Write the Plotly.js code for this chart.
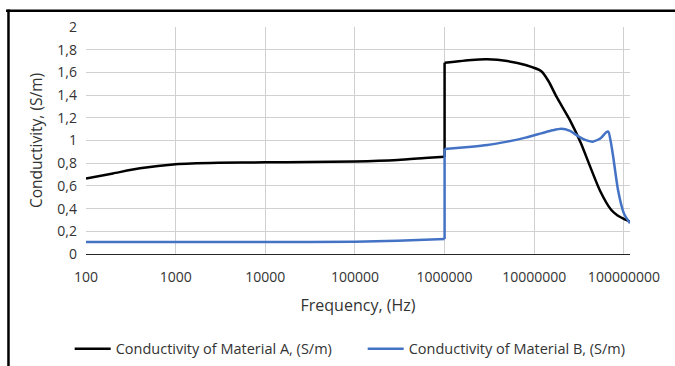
<!DOCTYPE html>
<html>
<head>
<meta charset="utf-8">
<script src="https://cdn.plot.ly/plotly-3.0.1.min.js"></script>
<style>
  html, body { margin: 0; padding: 0; background: #fff; }
  #chart { width: 675px; height: 366px; }
</style>
</head>
<body>
<div id="chart"></div>
<script>
// Material A: below the 1 MHz step, and from the step upward
const freqA_low = [100, 200, 400, 1000, 3000, 10000, 30000, 100000, 300000, 600000, 1000000];
const condA_low = [0.665, 0.71, 0.755, 0.79, 0.803, 0.808, 0.81, 0.815, 0.828, 0.845, 0.857];
const freqA_high = [1000000, 2000000, 3000000, 5000000, 8000000, 12000000, 14500000, 17700000,
  25000000, 33000000, 43000000, 54000000, 72000000, 85000000, 100000000, 117000000];
const condA_high = [1.685, 1.71, 1.715, 1.70, 1.665, 1.61, 1.52, 1.386,
  1.18, 0.98, 0.75, 0.56, 0.39, 0.34, 0.31, 0.285];

// Material B: below the 1 MHz step, and from the step upward
const freqB_low = [100, 1000, 10000, 100000, 300000, 1000000];
const condB_low = [0.105, 0.105, 0.105, 0.108, 0.117, 0.132];
const freqB_high = [1000000, 2000000, 3000000, 5000000, 8000000, 12000000, 16000000, 20000000,
  25000000, 30000000, 37000000, 45000000, 55000000, 63000000, 67000000, 71000000, 76000000,
  86000000, 100000000, 117000000];
const condB_high = [0.925, 0.945, 0.96, 0.99, 1.025, 1.063, 1.09, 1.104,
  1.085, 1.045, 1.005, 0.99, 1.02, 1.07, 1.078, 1.0, 0.857,
  0.564, 0.358, 0.27];

const seriesNames = ["Conductivity of Material A, (S/m)", "Conductivity of Material B, (S/m)"];
const seriesColors = ["#000000", "#4472C4"];

const xTickVals = [100, 1000, 10000, 100000, 1000000, 10000000, 100000000];
const xTickText = ["100", "1000", "10000", "100000", "1000000", "10000000", "100000000"];
const yTickVals = [0, 0.2, 0.4, 0.6, 0.8, 1, 1.2, 1.4, 1.6, 1.8, 2];
const yTickText = ["0", "0,2", "0,4", "0,6", "0,8", "1", "1,2", "1,4", "1,6", "1,8", "2"];

const FONT = "Open Sans, Lato, sans-serif";
const TXT = "#333333";

function seriesTraces(i, fLow, cLow, fHigh, cHigh) {
  const base = { type: "scatter", mode: "lines", legendgroup: "g" + i, name: seriesNames[i] };
  const lw = 2.5;
  return [
    Object.assign({}, base, { x: fLow, y: cLow, showlegend: true,
      line: { color: seriesColors[i], width: lw, shape: "spline", smoothing: 0.6 } }),
    Object.assign({}, base, { x: [fLow[fLow.length - 1], fHigh[0]], y: [cLow[cLow.length - 1], cHigh[0]],
      showlegend: false, line: { color: seriesColors[i], width: lw } }),
    Object.assign({}, base, { x: fHigh, y: cHigh, showlegend: false,
      line: { color: seriesColors[i], width: lw, shape: "spline", smoothing: 0.6 } })
  ];
}

const traces = [].concat(
  seriesTraces(0, freqA_low, condA_low, freqA_high, condA_high),
  seriesTraces(1, freqB_low, condB_low, freqB_high, condB_high)
);

const layout = {
  width: 675, height: 366,
  paper_bgcolor: "#ffffff", plot_bgcolor: "#ffffff",
  margin: { l: 86, r: 45, t: 27, b: 112, pad: 0, autoexpand: false },
  font: { family: FONT, size: 14, color: TXT },
  showlegend: true,
  xaxis: {
    type: "log",
    range: [2, Math.log10(117000000)],
    tickvals: xTickVals, ticktext: xTickText,
    showgrid: true, gridcolor: "#d0d0d0", gridwidth: 1,
    showline: true, linecolor: "#262626", linewidth: 1.3,
    zeroline: false, ticks: "", ticklabelstandoff: 10,
    tickfont: { family: FONT, size: 14, color: TXT },
    title: { text: "Frequency, (Hz)", standoff: 14, font: { family: FONT, size: 16, color: TXT } },
    automargin: false, fixedrange: true
  },
  yaxis: {
    range: [0, 2],
    tickvals: yTickVals, ticktext: yTickText,
    showgrid: true, gridcolor: "#d0d0d0", gridwidth: 1,
    showline: false, zeroline: false, ticks: "", ticklabelstandoff: 8,
    tickfont: { family: FONT, size: 14, color: TXT },
    title: { text: "Conductivity, (S/m)", standoff: 10, font: { family: FONT, size: 15.5, color: TXT } },
    automargin: false, fixedrange: true
  },
  legend: {
    orientation: "h", x: -0.03, xanchor: "left", y: -0.418, yanchor: "middle",
    font: { family: FONT, size: 14.5, color: TXT },
    itemwidth: 36, entrywidth: 242, bgcolor: "rgba(0,0,0,0)", borderwidth: 0,
    traceorder: "normal"
  },
  shapes: [
    { type: "line", xref: "paper", yref: "paper", x0: -0.147, x1: 1.1, y0: 1.0715, y1: 1.0715,
      line: { color: "#000000", width: 2.5 } },
    { type: "line", xref: "paper", yref: "paper", x0: -0.1425, x1: -0.1425, y0: 1.077, y1: -0.6,
      line: { color: "#000000", width: 2.5 } }
  ]
};

Plotly.newPlot("chart", traces, layout, { displayModeBar: false, staticPlot: true });
</script>
</body>
</html>
